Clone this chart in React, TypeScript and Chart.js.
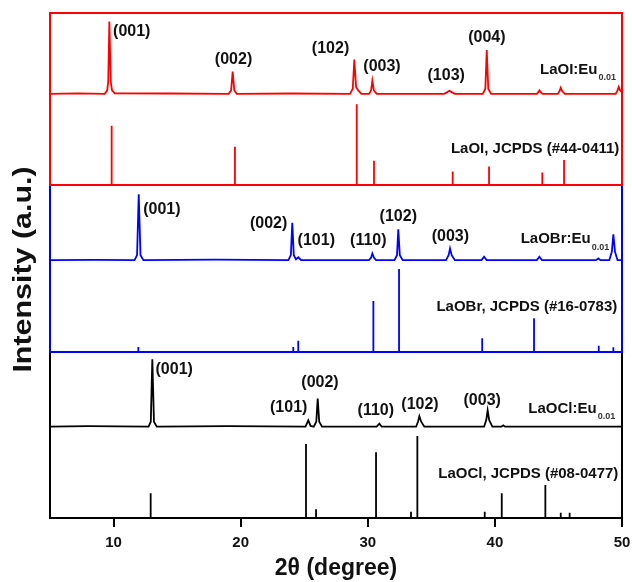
import { useEffect, useRef } from "react";
import { Chart, registerables } from "chart.js";
Chart.register(...registerables);

const X_MIN = 5;
const X_MAX = 50;
const xTicks = [10, 20, 30, 40, 50];

// Experimental XRD patterns [2θ, intensity (panel units)]
const laoiEu: [number, number][] = [
  [5, 53], [7.2, 53.3], [9.3, 53], [9.5, 55], [9.58, 60], [9.67, 95], [9.78, 60], [9.88, 55], [10.1, 53.3], [14.5, 53.2],
  [19.05, 53], [19.25, 55], [19.37, 66], [19.5, 55], [19.7, 53], [24.0, 53.2],
  [28.6, 53], [28.82, 56], [28.94, 73], [29.08, 57], [29.25, 55], [29.5, 53],
  [30.1, 53], [30.26, 55], [30.36, 60.6], [30.48, 55], [30.7, 53],
  [36.0, 53], [36.25, 54], [36.42, 54.8], [36.6, 54], [36.85, 53],
  [39.05, 53], [39.25, 56], [39.36, 78.5], [39.48, 56], [39.7, 53],
  [43.3, 53], [43.42, 54], [43.5, 55], [43.6, 54], [43.75, 53],
  [44.95, 53], [45.08, 54.5], [45.18, 56.6], [45.3, 54.5], [45.5, 53],
  [49.5, 53], [49.65, 55], [49.74, 57], [49.85, 55], [50, 54],
];
const laobrEu: [number, number][] = [
  [5, 55], [8.5, 55.2], [11.65, 55], [11.85, 58], [11.98, 94.4], [12.12, 58], [12.35, 55], [18.0, 55.3],
  [23.75, 55], [23.95, 58], [24.06, 77.4], [24.18, 58], [24.35, 55.5], [24.54, 56.7], [24.75, 55],
  [30.1, 55], [30.26, 56.5], [30.36, 59], [30.48, 56.5], [30.65, 55],
  [32.1, 55], [32.3, 58], [32.4, 73.5], [32.52, 58], [32.75, 55],
  [36.15, 55], [36.36, 58], [36.47, 62], [36.6, 58], [36.85, 55],
  [38.95, 55], [39.15, 57], [39.35, 55],
  [43.3, 55], [43.5, 57], [43.7, 55],
  [47.95, 55], [48.14, 56], [48.3, 55],
  [49.0, 55], [49.2, 60], [49.32, 70.5], [49.45, 60], [49.65, 55], [50, 55],
];
const laoclEu: [number, number][] = [
  [5, 55], [8.0, 55.3], [12.75, 55], [12.93, 58], [13.05, 95.6], [13.18, 58], [13.4, 55], [19.0, 55.3],
  [25.1, 55], [25.32, 58.8], [25.5, 55.5], [25.75, 55], [25.95, 58], [26.06, 71.9], [26.18, 58], [26.4, 55],
  [30.7, 55], [30.91, 56.8], [31.1, 55],
  [33.8, 55], [33.95, 58], [34.06, 61.3], [34.2, 58], [34.45, 55],
  [39.15, 55], [39.32, 59], [39.43, 64.9], [39.55, 59], [39.8, 55],
  [40.5, 55], [40.66, 55.8], [40.8, 55], [50, 55],
];

// JCPDS reference sticks [2θ, intensity]
const laoiRef: [number, number][] = [
  [9.85, 34.5], [19.55, 22.3], [29.13, 46.9], [30.49, 14.1], [36.68, 7.8], [39.54, 10.7], [43.73, 7.2], [45.44, 14.5],
];
const laobrRef: [number, number][] = [
  [11.95, 3], [24.14, 3], [24.53, 6.8], [30.44, 30.5], [32.46, 49.7], [39.0, 8.2], [43.08, 20.2], [48.17, 3.8], [49.32, 2.8],
];
const laoclRef: [number, number][] = [
  [12.92, 14.9], [25.14, 44.6], [25.93, 5.2], [30.65, 39.6], [33.4, 3.8], [33.9, 49.4], [39.2, 3.8],
  [40.54, 14.9], [43.97, 19.9], [45.18, 3.2], [45.88, 3.2],
];

// Peak labels [text, 2θ, intensity]
const laoiPeakLabels: [string, number, number][] = [
  ["(001)", 11.43, 89.1], ["(002)", 19.44, 73.1], ["(102)", 27.07, 79.5],
  ["(003)", 31.12, 68.8], ["(103)", 36.17, 63.4], ["(004)", 39.37, 85.9],
];
const laobrPeakLabels: [string, number, number][] = [
  ["(001)", 13.8, 85.4], ["(002)", 22.2, 77], ["(101)", 25.95, 67],
  ["(110)", 30.04, 66.5], ["(102)", 32.4, 81], ["(003)", 36.5, 69],
];
const laoclPeakLabels: [string, number, number][] = [
  ["(001)", 14.77, 89.2], ["(101)", 23.78, 66.7], ["(002)", 26.24, 81.5],
  ["(110)", 30.63, 65], ["(102)", 34.11, 68.5], ["(003)", 39.0, 71],
];

// Sample names [main, subscript, 2θ(left), intensity, axis]
const sampleNames: [string, string, number, number, string][] = [
  ["LaOI:Eu", "0.01", 43.55, 66.9, "yRed"],
  ["LaOBr:Eu", "0.01", 42.03, 67.5, "yBlue"],
  ["LaOCl:Eu", "0.01", 42.63, 65.7, "yBlack"],
];
// Reference names [text, 2θ(right), intensity, axis]
const refNames: [string, number, number, string][] = [
  ["LaOI, JCPDS (#44-0411)", 49.79, 21.3, "yRed"],
  ["LaOBr, JCPDS (#16-0783)", 49.63, 26.8, "yBlue"],
  ["LaOCl, JCPDS (#08-0477)", 49.71, 26.5, "yBlack"],
];

const RED = "#ff0000";
const BLUE = "#0000ff";
const BLACK = "#000000";
const FONT = "'Liberation Sans', Arial, sans-serif";

function sticks(ref: [number, number][]) {
  const pts: { x: number; y: number | null }[] = [];
  for (const [x, h] of ref) {
    pts.push({ x, y: 0 }, { x, y: h }, { x, y: null });
  }
  return pts;
}
function curve(d: [number, number][]) {
  return d.map(([x, y]) => ({ x, y }));
}

const overlay = {
  id: "overlay",
  afterDatasetsDraw(chart: any) {
    const ctx: CanvasRenderingContext2D = chart.ctx;
    const { left, right, top, bottom } = chart.chartArea;
    const xs = chart.scales.x;
    ctx.save();
    ctx.lineWidth = 2;
    const frames: [string, string][] = [["yBlack", BLACK], ["yBlue", BLUE], ["yRed", RED]];
    for (const [id, color] of frames) {
      const s = chart.scales[id];
      ctx.strokeStyle = color;
      ctx.strokeRect(left, s.top, right - left, s.bottom - s.top);
    }
    // peak labels
    ctx.fillStyle = "#111";
    ctx.textAlign = "center";
    ctx.textBaseline = "middle";
    ctx.font = `bold 16px ${FONT}`;
    const groups: [string, [string, number, number][]][] = [
      ["yRed", laoiPeakLabels], ["yBlue", laobrPeakLabels], ["yBlack", laoclPeakLabels],
    ];
    for (const [id, labels] of groups) {
      const ys = chart.scales[id];
      for (const [t, x, y] of labels) {
        ctx.fillText(t, xs.getPixelForValue(x), ys.getPixelForValue(y));
      }
    }
    // sample names with subscript
    for (const [main, sub, x, y, id] of sampleNames) {
      const ys = chart.scales[id];
      const px = xs.getPixelForValue(x);
      const py = ys.getPixelForValue(y);
      ctx.textAlign = "left";
      ctx.font = `bold 15px ${FONT}`;
      ctx.fillStyle = "#111";
      ctx.fillText(main, px, py);
      const w = ctx.measureText(main).width;
      ctx.font = `bold 9px ${FONT}`;
      ctx.fillStyle = "#333";
      ctx.fillText(sub, px + w + 1, py + 8);
    }
    // reference names
    ctx.fillStyle = "#111";
    ctx.font = `bold 15px ${FONT}`;
    ctx.textAlign = "right";
    for (const [t, x, y, id] of refNames) {
      const ys = chart.scales[id];
      ctx.fillText(t, xs.getPixelForValue(x), ys.getPixelForValue(y));
    }
    // y title
    ctx.save();
    ctx.translate(24, (top + bottom) / 2 + 4);
    ctx.rotate(-Math.PI / 2);
    ctx.scale(1.17, 1);
    ctx.textAlign = "center";
    ctx.font = `bold 26px ${FONT}`;
    ctx.fillStyle = "#111";
    ctx.fillText("Intensity (a.u.)", 0, 0);
    ctx.restore();
    ctx.restore();
  },
};

export default function App() {
  const ref = useRef<HTMLCanvasElement>(null);
  useEffect(() => {
    if (!ref.current) return;
    const yAxis = (weight: number) => ({
      type: "linear" as const,
      position: "left" as const,
      stack: "xrd",
      stackWeight: weight,
      min: 0,
      max: 100,
      display: false,
    });
    const chart = new Chart(ref.current, {
      type: "line",
      data: {
        datasets: [
          { data: curve(laoiEu), yAxisID: "yRed", borderColor: RED, borderWidth: 1.8 },
          { data: sticks(laoiRef), yAxisID: "yRed", borderColor: RED, borderWidth: 1.8 },
          { data: curve(laobrEu), yAxisID: "yBlue", borderColor: BLUE, borderWidth: 1.8 },
          { data: sticks(laobrRef), yAxisID: "yBlue", borderColor: BLUE, borderWidth: 1.8 },
          { data: curve(laoclEu), yAxisID: "yBlack", borderColor: BLACK, borderWidth: 1.8 },
          { data: sticks(laoclRef), yAxisID: "yBlack", borderColor: BLACK, borderWidth: 1.8 },
        ].map((d) => ({ ...d, pointRadius: 0, tension: 0, fill: false, spanGaps: false })),
      },
      options: {
        animation: false,
        responsive: true,
        maintainAspectRatio: false,
        layout: { padding: { left: 50, right: 10, top: 13, bottom: 0 } },
        plugins: { legend: { display: false }, tooltip: { enabled: false } },
        scales: {
          x: {
            type: "linear",
            min: X_MIN,
            max: X_MAX,
            afterBuildTicks: (s: any) => {
              s.ticks = xTicks.map((v) => ({ value: v }));
            },
            afterFit: (s: any) => {
              s.height = 64;
              s.paddingLeft = 0;
              s.paddingRight = 0;
            },
            grid: { drawOnChartArea: false, drawTicks: true, tickLength: 9, color: BLACK, lineWidth: 2 },
            border: { color: BLACK, width: 2 },
            ticks: { color: "#111", font: { family: FONT, size: 15, weight: "bold" }, padding: 7, maxRotation: 0 },
            title: {
              display: true,
              text: "2θ (degree)",
              color: "#111",
              font: { family: FONT, size: 23, weight: "bold" },
              padding: { top: 0, bottom: 0 },
            },
          },
          yBlack: yAxis(166),
          yBlue: yAxis(167),
          yRed: yAxis(172),
        },
      } as any,
      plugins: [overlay],
    });
    return () => chart.destroy();
  }, []);
  return (
    <div style={{ position: "fixed", left: 0, top: 0, width: 632, height: 582, background: "#fff" }}>
      <canvas ref={ref} />
    </div>
  );
}
